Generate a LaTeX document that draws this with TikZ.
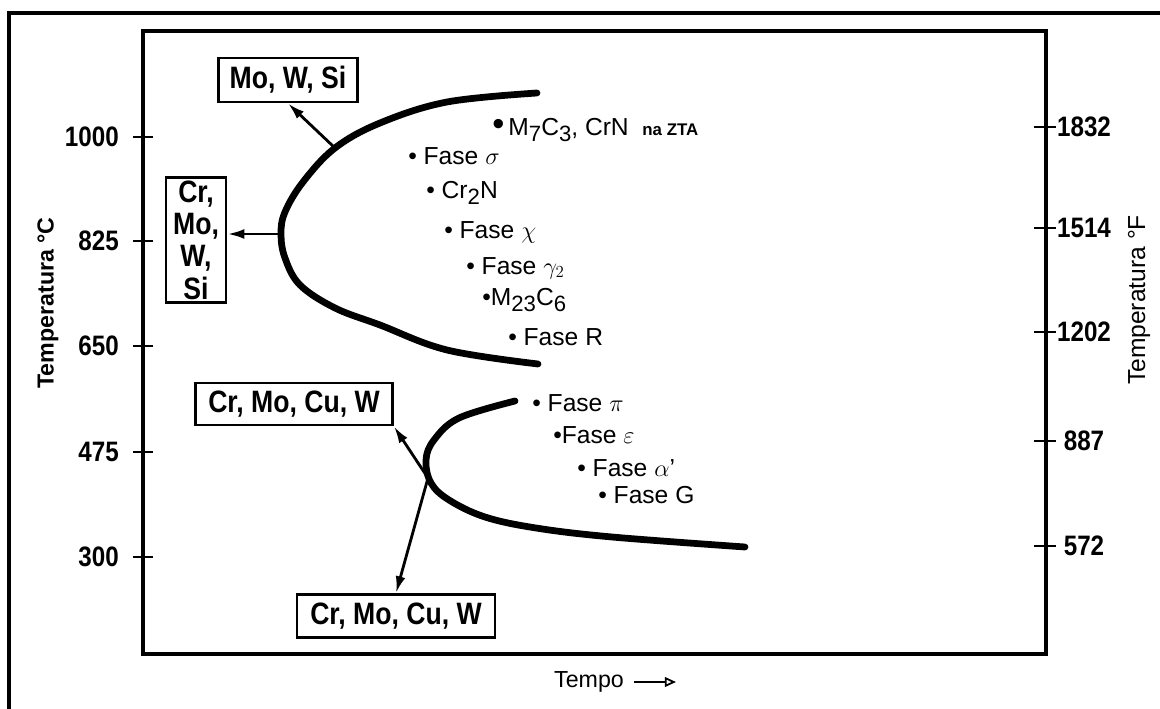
\documentclass[tikz,border=0pt]{standalone}
\usepackage{fontspec}
\setmainfont{Liberation Sans}
\newfontfamily\narrowsf[FakeStretch=0.86]{Liberation Sans}
\usetikzlibrary{arrows.meta,positioning,calc}
\tikzset{
  elbox/.style={draw,line width=2pt,inner sep=0pt,align=center,
    font=\narrowsf\bfseries\fontsize{22}{23}\selectfont},
  phase/.style={anchor=west,inner sep=0pt,font=\fontsize{17.5}{18}\selectfont},
  tcurve/.style={line width=4.8pt,line cap=round},
  elarrow/.style={line width=2pt,-{Latex[length=12pt,width=7pt]}},
  ticklab/.style={inner sep=0pt,font=\narrowsf\bfseries\fontsize{20}{21}\selectfont},
}
\newcommand{\sbs}[1]{\raisebox{-0.5ex}{\scalebox{0.9}{#1}}}

\begin{document}
\begin{tikzpicture}[x=0.025cm,y=-0.025cm]
  \useasboundingbox (0,0) rectangle (1160,709);
  \draw[line width=2.2pt] (9,709) -- (9,13) -- (1160,13);
  \draw[line width=3pt] (143,31) rectangle (1046,654);
  % temperature scales
  \foreach \v/\y in {1000/137,825/241,650/346,475/452,300/557}{
    \draw[line width=1.5pt] (133,\y) -- (153,\y);
    \node[ticklab,anchor=east] (tc\v) at (119,\y) {\v};
  }
  \foreach \v/\y in {1832/127,1514/228,1202/332,887/441,572/546}{
    \draw[line width=1.5pt] (1034,\y) -- (1056,\y);
    \node[ticklab] (tf\v) at (1084,\y) {\v};
  }
  \node[rotate=90,font=\bfseries\fontsize{16.5}{18}\selectfont] (labc) at (48,303) {Temperatura °C};
  \node[rotate=90,font=\fontsize{17.5}{18}\selectfont] (labf) at (1139,300) {Temperatura °F};
  \node[font=\fontsize{16.5}{18}\selectfont] (tempo) at (589,682) {Tempo};
  \coordinate (tempoend) at (676,682);
  \draw[line width=1.3pt,shorten <=4pt,-{Triangle[open,length=8pt,width=7pt]}] (tempo) -- (tempoend);
  % precipitation curves
  \draw[tcurve] plot[smooth,tension=0.6] coordinates {(537,93) (447,102) (380,123) (335,148)
    (303,182) (285,212) (281,234) (285,258) (300,285) (335,308) (380,325) (447,350) (538,364)};
  \draw[tcurve] plot[smooth,tension=0.6] coordinates {(515,401) (459,418) (434,440) (426,460)
    (431,483) (449,500) (485,517) (536,528) (612,537) (745,547)};
  \coordinate (up1) at (335,148);
  \coordinate (nose1) at (281,234);
  \coordinate (cross) at (428,478);
  % alloying elements
  \node[elbox,minimum width=139*0.025cm,minimum height=44*0.025cm] (mowsi) at (288,80) {Mo, W, Si};
  \node[elbox,minimum width=60*0.025cm,minimum height=125*0.025cm] (crmowsi) at (196,240) {Cr,\\Mo,\\W,\\Si};
  \node[elbox,minimum width=197*0.025cm,minimum height=42*0.025cm] (crmocuwA) at (294,404) {Cr, Mo, Cu, W};
  \node[elbox,minimum width=198*0.025cm,minimum height=43*0.025cm] (crmocuwB) at (396,616) {Cr, Mo, Cu, W};
  \draw[elarrow] (up1) -- (mowsi.south);
  \draw[elarrow] (nose1) -- (crmowsi.east|-nose1);
  \draw[elarrow] (cross) -- (crmocuwA.south east);
  \draw[elarrow] (cross) -- (crmocuwB.north);
  % phases
  \node[phase] (m7c3) at (492,130) {\scalebox{1.4}{\textbullet}\,M\sbs{7}C\sbs{3}, CrN \ {\bfseries\fontsize{12}{13}\selectfont na ZTA}};
  \node[phase] (sigma) at (408,156) {\textbullet\ Fase $\sigma$};
  \node[phase] (cr2n) at (426,193) {\textbullet\ Cr\sbs{2}N};
  \node[phase] (chi) at (444,232) {\textbullet\ Fase $\chi$};
  \node[phase] (gamma) at (466,268) {\textbullet\ Fase $\gamma_2$};
  \node[phase] (m23c6) at (482,300) {\textbullet M\sbs{23}C\sbs{6}};
  \node[phase] (faser) at (508,337) {\textbullet\ Fase R};
  \node[phase] (pi) at (532,403) {\textbullet\ Fase $\pi$};
  \node[phase] (eps) at (553,435) {\textbullet Fase $\varepsilon$};
  \node[phase] (alpha) at (577,468) {\textbullet\ Fase $\alpha$'};
  \node[phase] (faseg) at (598,495) {\textbullet\ Fase G};
\end{tikzpicture}
\end{document}
